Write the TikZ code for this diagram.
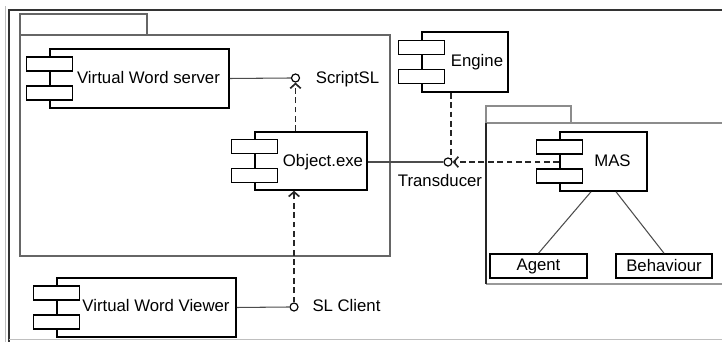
\documentclass[tikz,border=0pt]{standalone}
\usepackage{fontspec}
\setmainfont{Liberation Sans}
\usetikzlibrary{arrows.meta}
\usetikzlibrary{positioning}
\newcommand{\pxu}{0.03cm}
\tikzset{
    comp/.style={draw, line width=1.3pt, fill=white, inner sep=0pt},
    port/.style={draw, line width=1.2pt, fill=white, inner sep=0pt, minimum width=46*\pxu, minimum height=14*\pxu},
    part/.style={draw, line width=1.3pt, fill=white, inner sep=0pt, minimum width=96*\pxu, minimum height=24*\pxu, font=\fontsize{14.3}{16}\selectfont},
    iface/.style={draw, circle, line width=1pt, fill=white, inner sep=0pt, minimum size=8*\pxu},
    lbl/.style={inner sep=0pt, text height=0.72em, text depth=0pt, font=\fontsize{14.3}{16}\selectfont},
    pkg/.style={draw=black!60, line width=1pt},
    link/.style={draw=black!70, line width=0.9pt},
    dep/.style={draw=black!85, line width=1.4pt, dash pattern=on 5pt off 3pt},
}

\begin{document}
\begin{tikzpicture}[x=\pxu, y=\pxu, >={Straight Barb[length=4pt, width=9pt]}]
    \useasboundingbox (0,0) rectangle (722,342);

    % Outer frame
    \draw[line width=1.4pt, black!80] (9,-2) -- (9,332) -- (725,332);
    \draw[line width=0.5pt, black!25] (5,-2) -- (5,336);
    \draw[line width=0.5pt, black!25] (9,3) -- (725,3);

    % Packages
    \draw[pkg] (20,307) rectangle (147,328);
    \draw[pkg] (20,86) rectangle (390,307);
    \draw[pkg, black!45] (486,219) -- (486,236) -- (571,236) -- (571,219);
    \draw[pkg, black!45] (725,219) -- (486,219);
    \draw[pkg, black!40] (486,58) -- (725,58);
    \draw[pkg, black!85] (486,219) -- (486,58);

    % Components
    \node[comp, minimum width=179*\pxu, minimum height=59*\pxu] (vws) at (139.5,263.5) {};
    \node[comp, minimum width=112*\pxu, minimum height=58*\pxu] (obj) at (311,181) {};
    \node[comp, minimum width=86*\pxu, minimum height=60*\pxu] (eng) at (465,280) {};
    \node[comp, minimum width=87*\pxu, minimum height=59*\pxu] (mas) at (603.5,180.5) {};
    \node[comp, minimum width=179*\pxu, minimum height=59*\pxu] (vwv) at (146.5,34.5) {};
    \foreach \c in {vws,obj,eng,mas,vwv} {
        \node[port] (\c-a) at ([yshift=14.5*\pxu]\c.west) {};
        \node[port] (\c-b) at ([yshift=-14.5*\pxu]\c.west) {};
    }
    \node[lbl] (vws-l) at (148.5,263) {Virtual Word server};
    \node[lbl] (obj-l) at (323,180) {Object.exe};
    \node[lbl] (eng-l) at (477,280) {Engine};
    \node[lbl] (mas-l) at (612.5,180) {MAS};
    \node[lbl] (vwv-l) at (156,35) {Virtual Word Viewer};

    % Parts of MAS
    \node[part, minimum width=97*\pxu] (agent) at (538.5,76) {Agent};
    \node[part] (behav) at (664,76) {Behaviour};
    \draw[link] ([xshift=-12.5*\pxu]mas.south) -- (agent.north);
    \draw[link] ([xshift=12.5*\pxu]mas.south) -- (behav.north);

    % Interfaces
    \node[iface] (scriptsl) at (295.5,264) {};
    \node[lbl] (scriptsl-l) at (347.5,263) {ScriptSL};
    \node[iface] (slclient) at (294,35) {};
    \node[lbl] (slclient-l) at (346.5,35) {SL Client};
    \node[iface] (trans) at (448,180) {};
    \node[lbl] (trans-l) at (440,160) {Transducer};

    % Relationships
    \draw[link] (vws.east) -- (scriptsl.west);
    \draw[link] (vwv.east) -- (slclient.west);
    \draw[link] (trans.west -| obj.east) -- (trans.west);
    \draw[dep, ->] (obj.north -| scriptsl) -- (scriptsl.south);
    \draw[dep, ->] (slclient.north) -- (slclient.north |- obj.south);
    \draw[dep] (eng.south -| trans.north east) -- (trans.north east);
    \draw[dep, ->] (mas.west |- trans) -- (trans.east);

\end{tikzpicture}
\end{document}
